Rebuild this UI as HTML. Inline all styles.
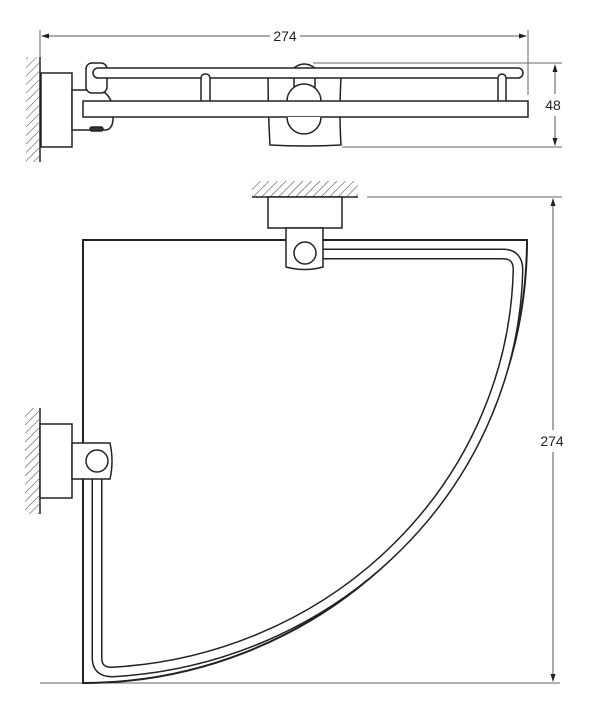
<!DOCTYPE html>
<html><head><meta charset="utf-8"><style>
html,body{margin:0;padding:0;background:#fff;}
svg{display:block;}
text{font-family:"Liberation Sans",sans-serif;font-size:14px;fill:#222;}
</style></head><body>
<svg width="600" height="708" viewBox="0 0 600 708" xmlns="http://www.w3.org/2000/svg">
<defs>
<pattern id="h" width="6" height="6" patternUnits="userSpaceOnUse" patternTransform="rotate(45)">
<line x1="0" y1="0" x2="0" y2="6" stroke="#444" stroke-width="1"/>
</pattern>
<marker id="a" markerWidth="8" markerHeight="8" refX="7" refY="4" orient="auto-start-reverse" markerUnits="userSpaceOnUse">
<path d="M0,1.5 L8,4 L0,6.5 Z" fill="#222"/>
</marker>
</defs>
<g fill="none" stroke-width="1">
<line x1="40" y1="30" x2="40" y2="160" stroke="#666"/>
<line x1="528" y1="30" x2="528" y2="95" stroke="#666"/>
<line x1="42" y1="36" x2="270" y2="36" marker-start="url(#a)" stroke="#555"/>
<line x1="300" y1="36" x2="526" y2="36" marker-end="url(#a)" stroke="#555"/>
<line x1="313" y1="63" x2="562" y2="63" stroke="#666"/>
<line x1="342" y1="147" x2="562" y2="147" stroke="#666"/>
<line x1="555" y1="94" x2="555" y2="65" marker-end="url(#a)" stroke="#555"/>
<line x1="555" y1="116" x2="555" y2="145" marker-end="url(#a)" stroke="#555"/>
</g>
<text x="285" y="41" text-anchor="middle">274</text>
<text x="553" y="110" text-anchor="middle">48</text>

<rect x="26" y="57" width="13" height="105" fill="url(#h)"/>
<line x1="40" y1="57" x2="40" y2="162" stroke="#222" stroke-width="1.5"/>
<g fill="#fff" stroke="#222" stroke-width="1.5">
<rect x="41" y="73" width="31" height="74"/>
<path d="M72,90 L100,90 Q112,95 113,110 L113,120 Q112,130 105,130 L72,130 Z"/>
<path d="M268,77 Q300,79 341,77 Q339,112 341,145 Q305,147 270,145 Q268,112 268,77 Z"/>
<path d="M294,101 L294,68 Q304,60 315,68 L315,101"/>
<rect x="86" y="63" width="21" height="30" rx="6"/>
<rect x="93" y="68" width="430" height="10" rx="5"/>
<rect x="201" y="74" width="9" height="34" rx="4"/>
<rect x="498" y="74" width="8" height="34" rx="4"/>
<path d="M287,101 A17 17 0 0 1 321,101" />
<rect x="83" y="101" width="445" height="16"/>
<path d="M321,117 A17 17 0 0 1 287,117"/>
<rect x="90" y="127" width="13" height="4" rx="2" fill="#333"/>
</g>

<rect x="252" y="181" width="106" height="16" fill="url(#h)"/>
<line x1="252" y1="197" x2="358" y2="197" stroke="#222" stroke-width="1.5"/>
<line x1="367" y1="197" x2="562" y2="197" stroke="#666"/>
<line x1="40" y1="683" x2="560" y2="683" stroke="#666"/>
<line x1="553" y1="430" x2="553" y2="199" stroke="#555" marker-end="url(#a)"/>
<line x1="553" y1="452" x2="553" y2="681" stroke="#555" marker-end="url(#a)"/>
<text x="552" y="446" text-anchor="middle">274</text>

<path d="M83,240 L527,240 A444 443 0 0 1 83,683 Z" fill="#fff" stroke="#222" stroke-width="2"/>
<path d="M316,254 L503,254 Q518,254 518,270 A430 412 0 0 1 112,672 Q97,672 97,658 L97,472" fill="none" stroke="#222" stroke-width="11"/>
<path d="M316,254 L503,254 Q518,254 518,270 A430 412 0 0 1 112,672 Q97,672 97,658 L97,472" fill="none" stroke="#fff" stroke-width="8"/>

<g fill="#fff" stroke="#222" stroke-width="1.5">
<rect x="268" y="197" width="74" height="31"/>
<path d="M286,228 L323,228 L323,267 Q305,272 286,267 Z"/>
<circle cx="305" cy="253" r="11"/>
</g>
<rect x="25" y="408" width="14" height="106" fill="url(#h)"/>
<line x1="40" y1="408" x2="40" y2="514" stroke="#222" stroke-width="1.5"/>
<g fill="#fff" stroke="#222" stroke-width="1.5">
<rect x="40" y="424" width="32" height="74"/>
<path d="M72,443 L110,443 Q114,461 110,479 L72,479 Z"/>
<circle cx="97" cy="461" r="11"/>
</g>
</svg>
</body></html>
